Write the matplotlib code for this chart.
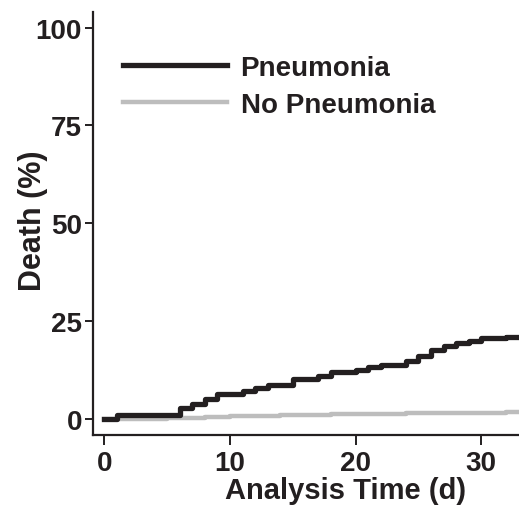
import matplotlib
matplotlib.use("Agg")
import matplotlib.pyplot as plt

plt.rcParams['font.family'] = ['Liberation Sans', 'DejaVu Sans']
plt.rcParams['font.weight'] = 'bold'

# Data
pneu_t = [0, 1, 6, 7, 8, 9, 11, 12, 13, 15, 17, 18, 20, 21, 22, 24, 25, 26, 27, 28, 29, 30, 31, 32, 33]
pneu_y = [0, 1.1, 2.7, 3.8, 5.1, 6.4, 7.2, 7.9, 8.7, 10.1, 11.1, 12.1, 12.6, 13.2, 13.9, 14.7, 16.0, 17.5, 18.7, 19.3, 20.0, 20.6, 20.7, 21.0, 21.0]
nopn_t = [0, 2, 5, 8, 10, 14, 18, 24, 29, 32, 33]
nopn_y = [0, 0.1, 0.3, 0.5, 0.7, 1.0, 1.2, 1.4, 1.6, 1.9, 1.9]
x_ticks = [0, 10, 20, 30]
y_ticks = [0, 25, 50, 75, 100]
labels = ["Pneumonia", "No Pneumonia"]

fig = plt.figure(figsize=(5.19, 5.06), dpi=100)
ax = fig.add_axes([93/519, 1 - 436/506, 1 - 93/519, (436 - 13)/506])

ax.step(nopn_t, nopn_y, where='post', color='#bdbdbd', lw=3.2, label=labels[1], zorder=2)
ax.step(pneu_t, pneu_y, where='post', color='#231f20', lw=3.8, label=labels[0], zorder=3)

ax.set_xlim(-0.9, 33)
ax.set_ylim(-4.1, 104)
ax.set_xticks(x_ticks)
ax.set_yticks(y_ticks)

for s in ['top', 'right']:
    ax.spines[s].set_visible(False)
for s in ['left', 'bottom']:
    ax.spines[s].set_linewidth(1.6)
    ax.spines[s].set_color('#231f20')

ax.tick_params(axis='y', length=6, width=1.4, labelsize=20, pad=2, colors='#231f20')
ax.tick_params(axis='x', length=7, width=1.4, labelsize=20, pad=4, colors='#231f20')
for lab in ax.get_xticklabels() + ax.get_yticklabels():
    lab.set_fontweight('bold')

ax.set_xlabel("Analysis Time (d)", fontsize=21, fontweight='bold', color='#231f20')
ax.xaxis.set_label_coords(0.592, -0.098)
ax.set_ylabel("Death (%)", fontsize=22, fontweight='bold', color='#231f20')
ax.yaxis.set_label_coords(-0.105, 0.51)

h, l = ax.get_legend_handles_labels()
leg = ax.legend(h[::-1], l[::-1], loc='upper left', bbox_to_anchor=(0.07, 0.898),
                frameon=False, fontsize=20, handlelength=3.74, handletextpad=0.5,
                labelspacing=0.38, borderpad=0, borderaxespad=0)
for t in leg.get_texts():
    t.set_fontweight('bold')
    t.set_color('#231f20')

fig.savefig("out.png", dpi=100)
